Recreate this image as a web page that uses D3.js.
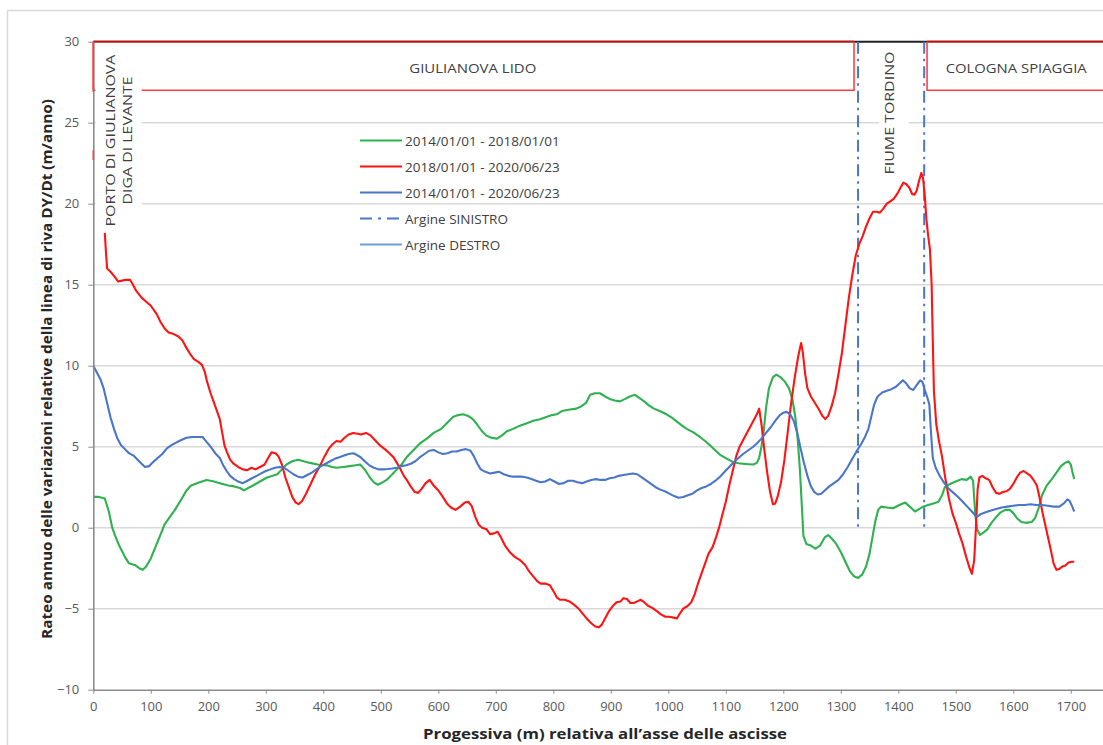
<!DOCTYPE html>
<html>
<head>
<meta charset="utf-8">
<script src="https://cdn.jsdelivr.net/npm/d3@7"></script>
<style>
  body { margin: 0; background: #fff; }
  svg { display: block; font-family: "Open Sans", "Liberation Sans", sans-serif; }
</style>
</head>
<body>
<svg id="chart" width="1103" height="745"></svg>
<script>
// Progressive distance (m) and annual shoreline rate (m/anno) for each period
const series2014_2018 = [
  [0,1.9],[10,1.9],[20,1.8],[27,1.0],[33,0.0],[38,-0.5],[45,-1.1],[55,-1.8],[62,-2.2],[72,-2.3],
  [80,-2.5],[86,-2.6],[92,-2.4],[100,-1.9],[108,-1.2],[116,-0.5],[124,0.2],[132,0.6],[142,1.1],[154,1.8],
  [162,2.3],[170,2.6],[185,2.8],[197,2.95],[210,2.85],[220,2.75],[235,2.6],[245,2.55],[255,2.45],[262,2.3],
  [272,2.5],[280,2.65],[292,2.9],[302,3.1],[312,3.2],[320,3.3],[328,3.6],[336,3.9],[346,4.1],[356,4.2],
  [366,4.1],[377,4.0],[390,3.9],[406,3.85],[415,3.75],[423,3.7],[435,3.75],[446,3.8],[456,3.85],[464,3.9],
  [472,3.6],[481,3.1],[488,2.8],[495,2.65],[503,2.8],[510,2.95],[520,3.3],[528,3.6],[536,3.9],[546,4.4],
  [557,4.8],[568,5.2],[580,5.5],[592,5.85],[605,6.1],[616,6.5],[626,6.85],[635,6.95],[643,7.0],[652,6.9],
  [660,6.7],[667,6.4],[675,6.0],[683,5.7],[692,5.55],[702,5.5],[711,5.7],[719,5.95],[730,6.1],[742,6.3],
  [754,6.45],[765,6.6],[777,6.7],[789,6.85],[798,6.95],[806,7.0],[815,7.2],[829,7.3],[840,7.35],[849,7.5],
  [857,7.7],[864,8.2],[872,8.3],[881,8.3],[890,8.1],[898,7.95],[907,7.85],[916,7.8],[925,7.95],[933,8.1],
  [942,8.2],[950,8.0],[958,7.8],[966,7.55],[975,7.35],[985,7.2],[997,7.0],[1006,6.8],[1015,6.55],[1024,6.3],
  [1032,6.1],[1043,5.9],[1055,5.6],[1064,5.35],[1072,5.1],[1081,4.8],[1090,4.5],[1100,4.3],[1113,4.05],[1122,3.98],
  [1130,3.95],[1140,3.92],[1148,3.9],[1154,4.0],[1158,4.3],[1162,5.0],[1166,6.0],[1170,7.4],[1175,8.6],[1182,9.3],
  [1188,9.45],[1195,9.3],[1203,9.0],[1210,8.6],[1216,7.9],[1221,6.8],[1225,5.5],[1229,3.5],[1232,1.5],[1235,-0.5],
  [1240,-1.0],[1248,-1.1],[1256,-1.3],[1264,-1.1],[1272,-0.6],[1278,-0.45],[1285,-0.7],[1292,-1.0],[1300,-1.5],[1308,-2.1],
  [1316,-2.7],[1323,-3.0],[1330,-3.1],[1337,-2.9],[1344,-2.4],[1350,-1.6],[1355,-0.6],[1360,0.4],[1365,1.1],[1370,1.3],
  [1380,1.25],[1391,1.2],[1402,1.4],[1412,1.55],[1420,1.3],[1429,1.0],[1436,1.15],[1443,1.3],[1452,1.4],[1461,1.5],
  [1470,1.6],[1476,2.0],[1481,2.5],[1490,2.7],[1500,2.85],[1510,3.0],[1519,2.95],[1526,3.15],[1530,2.9],[1534,0.8],
  [1537,-0.1],[1542,-0.45],[1548,-0.3],[1555,-0.1],[1562,0.3],[1570,0.65],[1578,0.95],[1586,1.1],[1594,1.1],[1600,0.9],
  [1606,0.6],[1614,0.35],[1622,0.3],[1632,0.35],[1638,0.6],[1644,1.2],[1650,2.0],[1658,2.6],[1667,3.0],[1675,3.4],
  [1683,3.8],[1690,4.0],[1696,4.1],[1700,3.9],[1703,3.4],[1706,3.0]
];

const series2018_2020 = [
  [20,18.2],[22,17.0],[24,16.0],[30,15.8],[37,15.5],[43,15.2],[50,15.25],[57,15.3],[64,15.3],[69,15.0],
  [75,14.6],[84,14.2],[92,13.95],[100,13.7],[110,13.2],[117,12.7],[124,12.3],[131,12.05],[140,11.95],[148,11.8],
  [155,11.55],[162,11.1],[168,10.75],[175,10.4],[182,10.25],[189,10.05],[194,9.6],[198,9.0],[204,8.3],[210,7.7],
  [216,7.1],[220,6.7],[224,5.9],[228,5.1],[232,4.7],[238,4.2],[244,3.95],[252,3.75],[260,3.6],[268,3.55],
  [275,3.7],[282,3.6],[290,3.75],[298,3.9],[304,4.3],[310,4.65],[317,4.6],[322,4.4],[328,3.9],[334,3.1],
  [340,2.5],[346,1.9],[352,1.55],[357,1.45],[363,1.65],[370,2.1],[378,2.7],[386,3.3],[394,3.8],[402,4.4],
  [410,4.9],[416,5.15],[423,5.35],[430,5.3],[437,5.55],[444,5.75],[452,5.85],[460,5.8],[466,5.75],[474,5.85],
  [482,5.7],[490,5.4],[498,5.1],[507,4.85],[515,4.6],[522,4.35],[528,4.0],[533,3.7],[540,3.2],[546,2.9],
  [552,2.55],[559,2.2],[565,2.15],[571,2.4],[578,2.75],[585,2.95],[592,2.6],[600,2.3],[607,1.95],[615,1.5],
  [622,1.25],[630,1.1],[638,1.3],[646,1.55],[652,1.6],[658,1.35],[664,0.7],[670,0.2],[676,0.0],[684,-0.1],
  [690,-0.4],[697,-0.35],[703,-0.25],[709,-0.6],[716,-1.1],[724,-1.5],[733,-1.8],[742,-2.0],[751,-2.3],[758,-2.7],
  [765,-3.0],[772,-3.3],[778,-3.45],[786,-3.45],[794,-3.55],[800,-3.9],[806,-4.3],[812,-4.45],[820,-4.45],[828,-4.55],
  [836,-4.75],[844,-5.0],[851,-5.3],[858,-5.6],[866,-5.9],[873,-6.1],[879,-6.15],[884,-6.0],[890,-5.6],[896,-5.2],
  [903,-4.85],[910,-4.6],[917,-4.55],[922,-4.35],[928,-4.4],[934,-4.65],[940,-4.65],[946,-4.55],[952,-4.45],[958,-4.6],
  [964,-4.8],[972,-4.95],[980,-5.15],[987,-5.35],[995,-5.5],[1002,-5.5],[1009,-5.55],[1015,-5.6],[1020,-5.3],[1026,-5.0],
  [1033,-4.85],[1040,-4.6],[1046,-4.1],[1052,-3.4],[1058,-2.8],[1064,-2.2],[1070,-1.6],[1077,-1.2],[1083,-0.6],[1089,0.1],
  [1094,0.8],[1100,1.6],[1106,2.6],[1112,3.5],[1118,4.4],[1124,5.0],[1130,5.4],[1136,5.8],[1142,6.2],[1148,6.6],
  [1154,7.0],[1158,7.35],[1162,6.4],[1167,4.8],[1172,3.4],[1177,2.2],[1182,1.45],[1186,1.5],[1190,1.9],[1196,2.8],
  [1202,4.2],[1208,6.0],[1214,7.8],[1220,9.3],[1226,10.6],[1231,11.4],[1234,10.8],[1238,9.5],[1242,8.6],[1248,8.1],
  [1255,7.7],[1262,7.3],[1268,6.9],[1273,6.7],[1278,6.9],[1284,7.5],[1290,8.3],[1296,9.5],[1302,10.8],[1308,12.5],
  [1314,14.2],[1320,15.6],[1326,16.8],[1332,17.5],[1338,18.0],[1344,18.6],[1350,19.1],[1356,19.5],[1362,19.5],[1368,19.45],
  [1374,19.7],[1380,20.0],[1386,20.15],[1392,20.3],[1398,20.6],[1404,21.0],[1409,21.3],[1414,21.2],[1419,21.0],[1424,20.6],
  [1428,20.55],[1432,20.8],[1436,21.4],[1440,21.9],[1443,21.6],[1446,20.5],[1449,19.0],[1452,18.0],[1455,17.2],[1458,15.0],
  [1460,11.5],[1462,8.4],[1466,6.4],[1471,5.3],[1476,4.4],[1482,3.0],[1488,1.8],[1494,0.9],[1500,0.3],[1506,-0.4],
  [1512,-1.0],[1518,-1.8],[1524,-2.5],[1528,-2.85],[1532,-2.0],[1535,0.0],[1538,2.4],[1541,3.1],[1546,3.2],[1552,3.05],
  [1558,2.95],[1564,2.5],[1570,2.15],[1576,2.1],[1582,2.2],[1588,2.25],[1594,2.4],[1600,2.7],[1606,3.1],[1612,3.4],
  [1618,3.5],[1624,3.35],[1630,3.2],[1636,2.9],[1641,2.6],[1646,1.8],[1651,0.9],[1656,0.1],[1661,-0.7],[1666,-1.5],
  [1670,-2.2],[1675,-2.6],[1680,-2.55],[1685,-2.4],[1690,-2.35],[1696,-2.15],[1702,-2.1],[1706,-2.1]
];

const series2014_2020 = [
  [0,10.0],[6,9.6],[12,9.2],[18,8.6],[24,7.7],[30,6.8],[36,6.1],[42,5.5],[48,5.1],[55,4.85],
  [62,4.6],[70,4.45],[77,4.2],[84,3.95],[90,3.75],[97,3.8],[104,4.05],[112,4.3],[120,4.55],[128,4.9],
  [136,5.1],[144,5.25],[152,5.4],[162,5.55],[172,5.6],[182,5.6],[190,5.6],[197,5.3],[204,5.0],[212,4.6],
  [220,4.3],[226,3.85],[232,3.5],[238,3.2],[245,3.0],[252,2.85],[260,2.75],[268,2.9],[276,3.05],[284,3.2],
  [292,3.35],[300,3.5],[308,3.6],[316,3.7],[324,3.75],[332,3.7],[340,3.5],[348,3.3],[356,3.15],[364,3.1],
  [372,3.25],[380,3.4],[388,3.6],[396,3.8],[404,3.95],[412,4.1],[420,4.25],[428,4.35],[436,4.45],[444,4.55],
  [452,4.6],[458,4.5],[465,4.35],[472,4.1],[480,3.85],[488,3.7],[496,3.6],[504,3.6],[512,3.62],[520,3.65],
  [528,3.7],[536,3.8],[544,3.85],[552,3.95],[560,4.1],[568,4.35],[576,4.55],[584,4.75],[592,4.8],[600,4.65],
  [608,4.55],[616,4.6],[624,4.7],[632,4.7],[640,4.8],[648,4.85],[656,4.75],[662,4.4],[668,3.95],[674,3.6],
  [682,3.45],[690,3.35],[698,3.4],[706,3.45],[714,3.3],[722,3.2],[730,3.15],[738,3.15],[746,3.15],[754,3.1],
  [762,3.0],[770,2.9],[778,2.8],[786,2.85],[794,3.0],[802,2.85],[810,2.7],[818,2.75],[826,2.9],[834,2.9],
  [842,2.8],[850,2.75],[858,2.85],[866,2.95],[874,3.0],[882,2.95],[890,2.95],[898,3.05],[906,3.1],[914,3.2],
  [922,3.25],[930,3.3],[938,3.35],[946,3.3],[954,3.1],[962,2.9],[970,2.7],[978,2.5],[986,2.35],[994,2.25],
  [1002,2.1],[1010,1.95],[1018,1.85],[1026,1.9],[1034,2.0],[1042,2.1],[1050,2.3],[1058,2.45],[1066,2.55],[1074,2.7],
  [1082,2.9],[1090,3.15],[1098,3.45],[1106,3.75],[1114,4.05],[1122,4.3],[1130,4.55],[1138,4.75],[1146,4.95],[1154,5.2],
  [1162,5.5],[1170,5.85],[1178,6.2],[1186,6.6],[1194,6.95],[1200,7.1],[1206,7.15],[1212,7.0],[1218,6.6],[1224,5.9],
  [1230,4.9],[1236,4.0],[1242,3.2],[1248,2.55],[1254,2.2],[1260,2.05],[1266,2.1],[1272,2.3],[1280,2.55],[1288,2.75],
  [1296,2.95],[1304,3.3],[1312,3.75],[1320,4.25],[1328,4.75],[1336,5.2],[1342,5.6],[1348,6.1],[1354,7.0],[1358,7.6],
  [1364,8.1],[1372,8.35],[1380,8.45],[1388,8.55],[1396,8.7],[1402,8.9],[1408,9.1],[1414,8.9],[1420,8.6],[1426,8.5],
  [1432,8.8],[1438,9.1],[1442,9.0],[1446,8.5],[1450,8.1],[1454,7.6],[1457,5.8],[1460,4.3],[1465,3.7],[1472,3.2],
  [1480,2.75],[1488,2.4],[1496,2.15],[1504,1.9],[1512,1.6],[1520,1.3],[1528,1.0],[1534,0.75],[1538,0.7],[1544,0.85],
  [1552,0.95],[1560,1.05],[1570,1.15],[1580,1.25],[1590,1.3],[1600,1.35],[1610,1.4],[1620,1.4],[1630,1.45],[1640,1.4],
  [1650,1.4],[1660,1.35],[1670,1.3],[1680,1.3],[1688,1.5],[1694,1.75],[1698,1.65],[1702,1.35],[1706,1.0]
];

// River banks of the Tordino mouth (progressive, m)
const argineSinistro = 1330;
const argineDestro = 1445;

// Coastal stretches along the top band (progressive, m)
const zoneGiulianovaLido = [0, 1323];
const zoneCologna = [1450, 1800];
const bandTop = 30;
const bandBottom = 27;

const xTicks = d3.range(0, 1701, 100);
const yTicks = d3.range(-10, 31, 5);

const legendLabels = ["2014/01/01 - 2018/01/01", "2018/01/01 - 2020/06/23", "2014/01/01 - 2020/06/23", "Argine SINISTRO", "Argine DESTRO"];
const legendColors = ["#2eb14f", "#ff1414", "#4a76c9", "#4a76c9", "#6f9bdc"];
const legendDash = [null, null, null, "12,6,3,6", null];

const svg = d3.select("#chart");
svg.append("rect").attr("width", 1103).attr("height", 745).attr("fill", "#fff");

// outer chart frame
svg.append("rect").attr("x", 7.5).attr("y", 10.5).attr("width", 1200).attr("height", 800)
  .attr("fill", "none").attr("stroke", "#d9d9d9").attr("stroke-width", 1.5);

const x = d3.scaleLinear().domain([0, 1800]).range([93.3, 1128.3]);
const y = d3.scaleLinear().domain([-10, 30]).range([689.7, 41.7]);

// horizontal gridlines
svg.append("g").selectAll("line")
  .data(yTicks.filter(v => v > -10 && v < 30))
  .join("line")
  .attr("x1", x(0)).attr("x2", x(1800))
  .attr("y1", d => y(d)).attr("y2", d => y(d))
  .attr("stroke", "#d9d9d9").attr("stroke-width", 1.5);

// top band: dark edge along 30 and the red stretch outlines
svg.append("line").attr("x1", x(zoneGiulianovaLido[1])).attr("x2", x(zoneCologna[0]))
  .attr("y1", y(bandTop)).attr("y2", y(bandTop)).attr("stroke", "#222").attr("stroke-width", 2);
const redTop = "#b01818";
svg.append("line").attr("x1", x(zoneGiulianovaLido[0])).attr("x2", x(zoneGiulianovaLido[1]))
  .attr("y1", y(bandTop)).attr("y2", y(bandTop)).attr("stroke", redTop).attr("stroke-width", 2.2);
svg.append("line").attr("x1", x(zoneCologna[0])).attr("x2", x(zoneCologna[1]))
  .attr("y1", y(bandTop)).attr("y2", y(bandTop)).attr("stroke", redTop).attr("stroke-width", 2.2);

const band = d3.line().x(d => x(d[0])).y(d => y(d[1]));
const zoneStroke = "#ff4040";
svg.append("path")
  .attr("d", band([[zoneGiulianovaLido[0], bandTop], [zoneGiulianovaLido[0], bandBottom]]))
  .attr("fill", "none").attr("stroke", zoneStroke).attr("stroke-width", 1.6);
svg.append("path")
  .attr("d", band([[zoneGiulianovaLido[0], bandBottom], [zoneGiulianovaLido[1], bandBottom], [zoneGiulianovaLido[1], bandTop]]))
  .attr("fill", "none").attr("stroke", zoneStroke).attr("stroke-width", 1.6);
svg.append("path")
  .attr("d", band([[zoneCologna[0], bandTop], [zoneCologna[0], bandBottom], [zoneCologna[1], bandBottom]]))
  .attr("fill", "none").attr("stroke", zoneStroke).attr("stroke-width", 1.6);

// label boxes with white background
svg.append("rect").attr("x", x(4)).attr("y", y(29.7))
  .attr("width", x(84) - x(4)).attr("height", y(18.3) - y(29.7)).attr("fill", "#fff");
svg.append("rect").attr("x", x(1367)).attr("y", y(29.6))
  .attr("width", x(1418) - x(1367)).attr("height", y(21.6) - y(29.6)).attr("fill", "#fff");

const labelColor = "#404040";
svg.append("text").attr("x", x(660)).attr("y", y(28.4))
  .attr("text-anchor", "middle").attr("dominant-baseline", "central")
  .attr("font-size", 13.5).attr("fill", labelColor)
  .attr("textLength", 127).attr("lengthAdjust", "spacingAndGlyphs")
  .text("GIULIANOVA LIDO");
svg.append("text").attr("x", x(1605)).attr("y", y(28.4))
  .attr("text-anchor", "middle").attr("dominant-baseline", "central")
  .attr("font-size", 13.5).attr("fill", labelColor)
  .attr("textLength", 141).attr("lengthAdjust", "spacingAndGlyphs")
  .text("COLOGNA SPIAGGIA");

function verticalLabel(cx, cy, txt, len) {
  svg.append("text")
    .attr("transform", `translate(${x(cx)},${y(cy)}) rotate(-90)`)
    .attr("text-anchor", "middle").attr("dominant-baseline", "central")
    .attr("font-size", 13.5).attr("fill", labelColor)
    .attr("textLength", len).attr("lengthAdjust", "spacingAndGlyphs")
    .text(txt);
}
verticalLabel(1384, 25.6, "FIUME TORDINO", 123);
verticalLabel(29, 23.9, "PORTO DI GIULIANOVA", 172);
verticalLabel(58, 23.9, "DIGA DI LEVANTE", 128);

// river banks
[argineSinistro, argineDestro].forEach(b => {
  svg.append("line").attr("x1", x(b)).attr("x2", x(b))
    .attr("y1", y(30)).attr("y2", y(0))
    .attr("stroke", "#4a76c9").attr("stroke-width", 2)
    .attr("stroke-dasharray", "12,5,2.5,5");
});

// series lines
const line = d3.line().x(d => x(d[0])).y(d => y(d[1]));
[[series2014_2018, legendColors[0]], [series2018_2020, legendColors[1]], [series2014_2020, legendColors[2]]]
  .forEach(([data, color]) => {
    svg.append("path").datum(data)
      .attr("d", line)
      .attr("fill", "none").attr("stroke", color)
      .attr("stroke-width", 2.1).attr("stroke-linejoin", "round");
  });

// axes
const axisColor = "#8c8c8c";
const yAxis = svg.append("g").attr("transform", `translate(${x(0)},0)`)
  .call(d3.axisLeft(y).tickValues(yTicks).tickFormat(d3.format("d")).tickSize(5).tickSizeOuter(0).tickPadding(9));
const xAxis = svg.append("g").attr("transform", `translate(0,${y(-10)})`)
  .call(d3.axisBottom(x).tickValues(xTicks).tickFormat(d3.format("d")).tickSize(4).tickSizeOuter(0).tickPadding(8));
[yAxis, xAxis].forEach(g => {
  g.select(".domain").attr("stroke", axisColor).attr("stroke-width", 1.6);
  g.selectAll(".tick line").attr("stroke", axisColor);
  g.selectAll(".tick text").attr("fill", "#595959").attr("font-size", 13)
    .attr("font-family", "'Open Sans', sans-serif");
});
// left red mark on the axis at the start of the band
svg.append("path").attr("d", band([[0, bandTop], [0, 26.9]]))
  .attr("stroke", "#ff4040").attr("stroke-width", 1.6);
svg.append("path").attr("d", band([[0, 23.3], [0, 22.7]]))
  .attr("stroke", "#ff4040").attr("stroke-width", 1.6);

// axis titles
svg.append("text")
  .attr("transform", `translate(46,${y(9.8)}) rotate(-90)`)
  .attr("text-anchor", "middle").attr("dominant-baseline", "central")
  .attr("font-size", 14).attr("font-weight", "bold").attr("fill", "#262626")
  .attr("textLength", 540).attr("lengthAdjust", "spacingAndGlyphs")
  .text("Rateo annuo delle variazioni relative della linea di riva DY/Dt (m/anno)");
svg.append("text")
  .attr("x", 605).attr("y", 733)
  .attr("text-anchor", "middle").attr("dominant-baseline", "central")
  .attr("font-size", 14).attr("font-weight", "bold").attr("fill", "#262626")
  .attr("textLength", 364).attr("lengthAdjust", "spacingAndGlyphs")
  .text("Progessiva (m) relativa all\u2019asse delle ascisse");

// legend
const legend = svg.append("g").attr("transform", "translate(360,140.5)");
legendLabels.forEach((lab, i) => {
  const row = legend.append("g").attr("transform", `translate(0,${i * 26})`);
  row.append("line").attr("x1", 0).attr("x2", 42).attr("y1", 0).attr("y2", 0)
    .attr("stroke", legendColors[i]).attr("stroke-width", 2.2)
    .attr("stroke-dasharray", legendDash[i]);
  row.append("text").attr("x", 45).attr("y", 0)
    .attr("dominant-baseline", "central").attr("font-size", 13.5).attr("fill", labelColor)
    .text(lab);
});
</script>
</body>
</html>
